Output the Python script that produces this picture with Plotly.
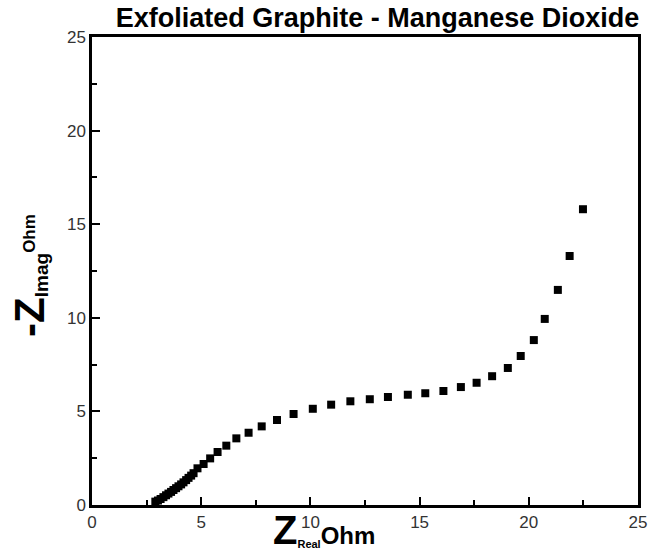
import plotly.graph_objects as go

# Nyquist data (Ohm)
z_real = [2.90, 3.02, 3.14, 3.27, 3.39, 3.50, 3.62, 3.73, 3.85, 3.96, 4.08, 4.19,
          4.31, 4.42, 4.54, 4.65, 4.83, 5.11, 5.41, 5.75, 6.15, 6.61, 7.17, 7.77,
          8.47, 9.23, 10.11, 10.95, 11.83, 12.72, 13.55, 14.46, 15.26, 16.09,
          16.89, 17.61, 18.32, 19.04, 19.63, 20.23, 20.73, 21.33, 21.87, 22.48]
z_imag = [0.18, 0.24, 0.32, 0.42, 0.52, 0.61, 0.70, 0.80, 0.90, 1.00, 1.10, 1.21,
          1.33, 1.45, 1.57, 1.70, 1.96, 2.19, 2.49, 2.83, 3.17, 3.56, 3.86, 4.20,
          4.54, 4.86, 5.14, 5.36, 5.54, 5.65, 5.77, 5.89, 5.97, 6.09,
          6.30, 6.53, 6.88, 7.32, 7.96, 8.81, 9.94, 11.49, 13.30, 15.80]

tick_vals = [0, 5, 10, 15, 20, 25]
tick_text = ["0", "5", "10", "15", "20", "25"]

FONT = "Liberation Sans, Arial, sans-serif"

fig = go.Figure()
fig.add_trace(go.Scatter(
    x=z_real, y=z_imag, mode="markers",
    marker=dict(symbol="square", size=8, color="black", line=dict(width=0)),
    showlegend=False,
))

axis_common = dict(
    range=[0, 25], tickvals=tick_vals, ticktext=tick_text,
    showgrid=False, zeroline=False,
    showline=True, linecolor="black", linewidth=2.5, mirror=True,
    ticks="inside", ticklen=8, tickwidth=2, tickcolor="black",
    tickfont=dict(family=FONT, size=17, color="#333"),
    ticklabeloverflow="allow",
    minor=dict(ticks="inside", dtick=2.5, tick0=0, ticklen=5, tickwidth=2, tickcolor="black"),
)

fig.update_layout(
    width=651, height=554,
    margin=dict(l=92, r=4, t=37, b=49),
    paper_bgcolor="white", plot_bgcolor="white",
    xaxis=axis_common,
    yaxis=axis_common,
    title=dict(
        text="<b>Exfoliated Graphite - Manganese Dioxide</b>",
        x=0.58, xanchor="center", xref="container",
        y=0.969, yanchor="middle", yref="container",
        font=dict(family=FONT, size=27, color="black"),
    ),
    annotations=[
        dict(
            text="<b><span style='font-size:40px'>Z</span><sub><span style='font-size:11px'>Real</span></sub><span style='font-size:24px'>Ohm</span></b>",
            xref="x", yref="paper", x=10.63, y=-0.104,
            xanchor="center", yanchor="bottom", showarrow=False,
            font=dict(family=FONT, size=20, color="black"),
        ),
        dict(
            text="<b><span style='font-size:42px'>-Z</span><sub><span style='font-size:19px'>Imag</span></sub><sup><span style='font-size:17px'>Ohm</span></sup></b>",
            xref="paper", yref="paper", x=-0.115, y=0.49,
            xanchor="center", yanchor="middle", textangle=-90, showarrow=False,
            font=dict(family=FONT, size=20, color="black"),
        ),
    ],
)

fig.write_html("out.html")
